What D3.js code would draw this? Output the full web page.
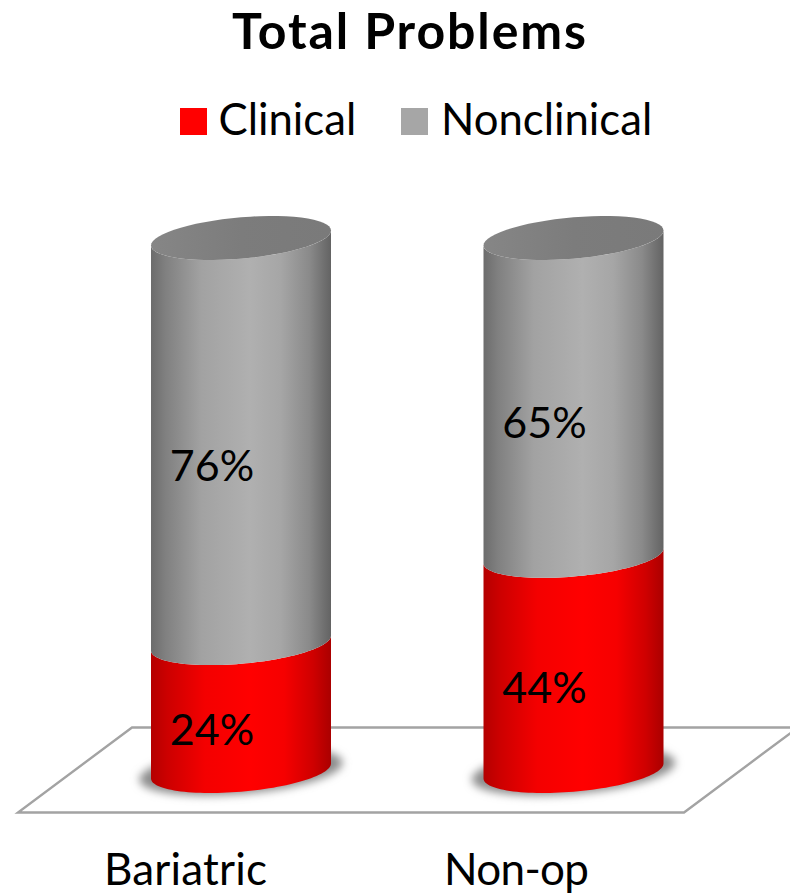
<!DOCTYPE html>
<html>
<head>
<meta charset="utf-8">
<script src="https://cdn.jsdelivr.net/npm/d3@7/dist/d3.min.js"></script>
<style>
html,body{margin:0;padding:0;background:#fff;}
svg{display:block;}
text{font-family:Lato,"Open Sans",sans-serif;fill:#000;}
</style>
</head>
<body>
<svg id="chart" width="790" height="895"></svg>
<script>
// Share of patients in each range, per treatment group
const categories = ["Bariatric", "Non-op"];
const seriesNames = ["Clinical", "Nonclinical"];
const clinical = [24, 44];
const nonclinical = [76, 65];
const seriesColors = ["#ff0000", "#a6a6a6"];
const titleText = "Total Problems";

const svg = d3.select("#chart");

const rows = categories.map((c, i) => ({category: c, Clinical: clinical[i], Nonclinical: nonclinical[i]}));
const stacked = d3.stack().keys(seriesNames).offset(d3.stackOffsetExpand)(rows);

const x = d3.scalePoint().domain(categories).range([241, 573.5]);
const y = d3.scaleLinear().domain([0, 1]).range([771, 238]);
const color = d3.scaleOrdinal().domain(seriesNames).range(seriesColors);

// Ellipse outline constants for the tilted cylinder view
const rx = 90, tilt = 7.5, ry = 20.7;
const ellipsePoint = (cx, cy, t) => [cx + rx * Math.cos(t), cy - tilt * Math.cos(t) + ry * Math.sin(t)];
const line = d3.line();
const arcPts = (cx, cy, from, to) => d3.range(0, 61).map(i => ellipsePoint(cx, cy, from + (to - from) * i / 60));

// Gradients
const defs = svg.append("defs");
function bodyGradient(id, stops) {
  const g = defs.append("linearGradient").attr("id", id).attr("x1", 0).attr("x2", 1).attr("y1", 0).attr("y2", 0);
  stops.forEach(([o, c]) => g.append("stop").attr("offset", o).attr("stop-color", c));
}
bodyGradient("body-Nonclinical", [[0, "#6c6c6c"], [0.08, "#808080"], [0.28, "#a2a2a2"], [0.55, "#b0b0b0"], [0.72, "#a6a6a6"], [0.88, "#8a8a8a"], [1, "#636363"]]);
bodyGradient("body-Clinical", [[0, "#b40000"], [0.09, "#cc0000"], [0.3, "#f40000"], [0.55, "#ff0000"], [0.74, "#f60000"], [0.9, "#cf0000"], [1, "#aa0000"]]);
const capGrad = defs.append("linearGradient").attr("id", "cap").attr("x1", 0).attr("x2", 1).attr("y1", 0).attr("y2", 0);
[[0, "#868686"], [0.5, "#7c7c7c"], [1, "#7a7a7a"]].forEach(([o, c]) => capGrad.append("stop").attr("offset", o).attr("stop-color", c));
defs.append("filter").attr("id", "soft").attr("x", "-20%").attr("y", "-40%").attr("width", "140%").attr("height", "180%")
  .append("feGaussianBlur").attr("stdDeviation", 4.5);

// Title
svg.append("text").attr("x", 409).attr("y", 49).attr("text-anchor", "middle")
  .attr("font-size", 50).attr("font-weight", 700)
  .attr("textLength", 354).attr("lengthAdjust", "spacing").text(titleText);

// Legend
const legendX = [180, 401], legendTextX = [218.5, 441];
const legend = svg.append("g").selectAll("g").data(seriesNames).join("g");
legend.append("rect").attr("x", (d, i) => legendX[i]).attr("y", 108).attr("width", 27).attr("height", 27)
  .attr("fill", d => color(d));
legend.append("text").attr("x", (d, i) => legendTextX[i]).attr("y", 135).attr("font-size", 43.7).text(d => d);

// Floor plane
const floor = [[132, 727.5], [18, 812.5], [684, 812.5], [798, 727.5]];
svg.append("path").attr("d", line(floor) + "Z").attr("fill", "#fff").attr("stroke", "#a3a3a3").attr("stroke-width", 2.4);

// Cylinders
categories.forEach((cat, i) => {
  const cx = x(cat);
  const g = svg.append("g");
  // Shadow where the base meets the floor
  const base = y(0);
  g.append("ellipse").attr("cx", cx).attr("cy", base)
    .attr("rx", rx + 12).attr("ry", 23)
    .attr("transform", `rotate(-5 ${cx} ${base})`)
    .attr("fill", "#8c8c8c").attr("filter", "url(#soft)");

  stacked.forEach(s => {
    const [y0, y1] = s[i];
    const lower = y(y0), upper = y(y1);
    const front = arcPts(cx, lower, Math.PI, 0);
    const back = arcPts(cx, upper, 0, Math.PI);
    g.append("path").attr("d", line(front.concat(back)) + "Z")
      .attr("fill", `url(#body-${s.key})`);
  });

  // Top cap
  g.append("path").attr("d", line(arcPts(cx, y(1), 0, 2 * Math.PI)) + "Z").attr("fill", "url(#cap)");

  // Value labels
  const labelX = cx - 29;
  stacked.forEach((s, k) => {
    const val = k === 0 ? clinical[i] : nonclinical[i];
    const labelY = k === 0 ? [745, 703][i] : [481, 438][i];
    g.append("text").attr("x", labelX).attr("y", labelY).attr("text-anchor", "middle")
      .attr("font-size", 43).text(val + "%");
  });

  // Category label
  svg.append("text").attr("x", [185.5, 516.5][i]).attr("y", 885).attr("text-anchor", "middle")
    .attr("font-size", 44).attr("textLength", [163, 145][i]).attr("lengthAdjust", "spacing").text(cat);
});
</script>
</body>
</html>
